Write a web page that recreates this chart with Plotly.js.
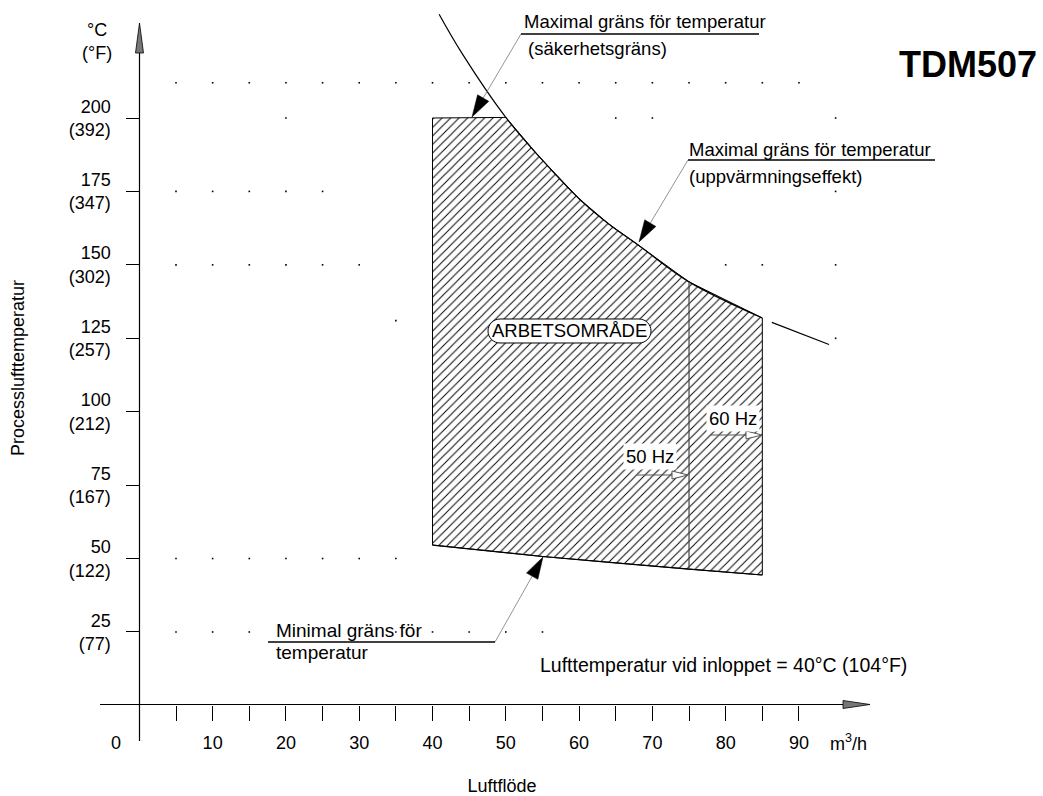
<!DOCTYPE html>
<html>
<head>
<meta charset="utf-8">
<script src="https://cdn.plot.ly/plotly-3.0.1.min.js"></script>
<style>
html, body { margin: 0; padding: 0; background: #fff; }
#chart { width: 1043px; height: 796px; }
</style>
</head>
<body>
<div id="chart"></div>
<script>
// ---------------- data ----------------
const flowLabelTicks = [10, 20, 30, 40, 50, 60, 70, 80, 90];
const flowLabels = ['10', '20', '30', '40', '50', '60', '70', '80', '90'];
const flowMinorTicks = [5, 15, 25, 35, 45, 55, 65, 75, 85];
const tempTicksC = [25, 50, 75, 100, 125, 150, 175, 200];
const tempTicksF = [77, 122, 167, 212, 257, 302, 347, 392];

// Maximal gräns för temperatur (säkerhetsgräns / uppvärmningseffekt) curve
const maxLimitFlow = [40.9, 43.9, 50.0, 54.5, 60.0, 64.0, 68.2, 75.0, 85.0];
const maxLimitTemp = [235.3, 222.5, 200.2, 187.0, 172.5, 164.0, 156.5, 144.2, 131.9];
const maxLimitTailFlow = [86.3, 94.1];
const maxLimitTailTemp = [130.4, 122.9];

// Minimal gräns för temperatur
const minLimitFlow = [40, 55, 75, 85];
const minLimitTemp = [54.6, 50.7, 46.4, 44.4];

const safetyCapTemp = 200;
const minFlow = 40;
const flow50Hz = 75;
const flow60Hz = 85;

// background grid dots (rows of temperature, flows present in each row)
const dotRowTemps = [212, 200, 175, 150, 131, 125, 50, 25];
const dotRowFlows = [
  [5, 10, 15, 20, 25, 30, 35, 40, 45, 50, 55, 60, 65, 70, 75, 80, 85, 90],
  [20, 65, 70, 95],
  [5, 10, 15, 20, 25, 95],
  [5, 10, 15, 20, 25, 30, 80, 85, 95],
  [35],
  [95],
  [5, 10, 15, 20, 25, 30, 35],
  [5, 10, 15, 35, 40, 45, 50, 55]
];

// ---------------- geometry helpers ----------------
const W = 1043, H = 796;
const PX_X = 7.329, PX_Y = 2.937, ORIGIN_X = 139.35, ORIGIN_Y = 705.4;
const PLOT_RIGHT = 1004, PLOT_BOTTOM = 736;
const FONT = 'Liberation Sans, Arial, Helvetica, sans-serif';

function P(px, py) { return [px / W, 1 - py / H]; }
function pt(px, py) { const q = P(px, py); return q[0].toFixed(5) + ',' + q[1].toFixed(5); }
function polyPath(pts) { return 'M' + pts.map(p => pt(p[0], p[1])).join('L') + 'Z'; }
function headPts(tail, tip, L, hw) {
  const dx = tip[0] - tail[0], dy = tip[1] - tail[1];
  const len = Math.hypot(dx, dy), ux = dx / len, uy = dy / len;
  const bx = tip[0] - ux * L, by = tip[1] - uy * L, nx = -uy, ny = ux;
  return { pts: [[tip[0], tip[1]], [bx + nx * hw, by + ny * hw], [bx - nx * hw, by - ny * hw]], base: [bx, by] };
}
function pillPath(cx, cy, hw, hh) {
  const a = hw - hh, r = hh, k = 0.5523 * r;
  return 'M' + pt(cx - a, cy - r) + 'L' + pt(cx + a, cy - r) +
    'C' + pt(cx + a + k, cy - r) + ' ' + pt(cx + a + r, cy - k) + ' ' + pt(cx + a + r, cy) +
    'C' + pt(cx + a + r, cy + k) + ' ' + pt(cx + a + k, cy + r) + ' ' + pt(cx + a, cy + r) +
    'L' + pt(cx - a, cy + r) +
    'C' + pt(cx - a - k, cy + r) + ' ' + pt(cx - a - r, cy + k) + ' ' + pt(cx - a - r, cy) +
    'C' + pt(cx - a - r, cy - k) + ' ' + pt(cx - a - k, cy - r) + ' ' + pt(cx - a, cy - r) + 'Z';
}

// ---------------- traces ----------------
const areaFlow = [minFlow, minFlow];
const areaTemp = [minLimitTemp[0], safetyCapTemp];
maxLimitFlow.forEach((f, i) => { if (f >= 50) { areaFlow.push(f); areaTemp.push(maxLimitTemp[i]); } });
for (let i = minLimitFlow.length - 1; i >= 0; i--) { areaFlow.push(minLimitFlow[i]); areaTemp.push(minLimitTemp[i]); }

const dotX = [], dotY = [];
dotRowTemps.forEach((t, i) => dotRowFlows[i].forEach(f => { dotX.push(f); dotY.push(t); }));

const i50max = maxLimitFlow.indexOf(flow50Hz);
const i50min = minLimitFlow.indexOf(flow50Hz);

const traces = [
  { type: 'scatter', mode: 'markers', x: dotX, y: dotY, hoverinfo: 'skip',
    marker: { symbol: 'square', size: 1.6, color: '#000', line: { width: 0 } } },
  { type: 'scatter', mode: 'lines', x: areaFlow, y: areaTemp, fill: 'toself', hoverinfo: 'skip',
    fillcolor: 'rgba(0,0,0,0)',
    fillpattern: { shape: '/', fgcolor: '#000', bgcolor: '#fff', size: 6, solidity: 0.16 },
    line: { color: '#000', width: 1 } },
  { type: 'scatter', mode: 'lines', hoverinfo: 'skip',
    x: maxLimitFlow, y: maxLimitTemp,
    line: { color: '#000', width: 1.2, shape: 'spline', smoothing: 1 } },
  { type: 'scatter', mode: 'lines', hoverinfo: 'skip',
    x: maxLimitTailFlow, y: maxLimitTailTemp,
    line: { color: '#000', width: 1.2 } },
  { type: 'scatter', mode: 'lines', hoverinfo: 'skip', x: minLimitFlow, y: minLimitTemp,
    line: { color: '#000', width: 1.2, shape: 'spline', smoothing: 0.6 } },
  { type: 'scatter', mode: 'lines', hoverinfo: 'skip',
    x: [flow50Hz, flow50Hz], y: [minLimitTemp[i50min], maxLimitTemp[i50max]],
    line: { color: '#444', width: 1.2 } }
];

// ---------------- decorations ----------------
const shapes = [];
const paper = { xref: 'paper', yref: 'paper' };
function lineShape(a, b, color, width) {
  const p = P(a[0], a[1]), q = P(b[0], b[1]);
  shapes.push(Object.assign({ type: 'line', x0: p[0], y0: p[1], x1: q[0], y1: q[1], line: { color: color, width: width } }, paper));
}
function pathShape(path, fill, color, width) {
  shapes.push(Object.assign({ type: 'path', path: path, fillcolor: fill, line: { color: color, width: width } }, paper));
}

// axis lines + arrows
lineShape([100, 704.5], [846, 704.5], '#000', 1.2);
pathShape(polyPath([[843, 700.5], [870, 704.5], [843, 708.5]]), '#777', '#000', 0.8);
lineShape([139.5, 741], [139.5, 52], '#000', 1.2);
pathShape(polyPath([[135.5, 53], [139.5, 23], [143.5, 53]]), '#777', '#000', 0.8);

// leader arrows (closed black heads)
[
  { tail: [521, 34], tip: [472, 117] },
  { tail: [688, 160], tip: [639, 242] },
  { tail: [495, 642], tip: [543, 557] }
].forEach(a => {
  const h = headPts(a.tail, a.tip, 22, 6.5);
  lineShape(a.tail, h.base, '#888', 0.9);
  pathShape(polyPath(h.pts), '#000', '#000', 0.5);
});
// underlines
lineShape([521, 34], [759, 34], '#000', 1.3);
lineShape([688, 160], [935, 160], '#000', 1.3);
lineShape([268, 642], [495, 642], '#000', 1.3);

// Hz arrows (open heads)
[
  { tail: [637, 475], tip: [688, 475] },
  { tail: [710, 435], tip: [762, 435] }
].forEach(a => {
  const h = headPts(a.tail, a.tip, 16, 4);
  lineShape(a.tail, h.base, '#555', 1);
  pathShape(polyPath(h.pts), '#fff', '#555', 1);
});

// pill around ARBETSOMRÅDE
pathShape(pillPath(569.5, 331, 81.5, 12), '#fff', '#000', 1);

// ---------------- annotations ----------------
const annotations = [];
function txt(text, px, py, xanchor, opts) {
  const p = P(px, py);
  annotations.push(Object.assign({ text: text, x: p[0], y: p[1], xref: 'paper', yref: 'paper',
    xanchor: xanchor, yanchor: 'middle', showarrow: false, borderpad: 0,
    font: { family: FONT, size: 18.5, color: '#000' } }, opts || {}));
}
txt('Maximal gräns för temperatur', 523, 22, 'left');
txt('(säkerhetsgräns)', 527, 48, 'left');
txt('Maximal gräns för temperatur', 688, 149, 'left');
txt('(uppvärmningseffekt)', 688, 176, 'left');
txt('Minimal gräns för', 275, 630, 'left', { font: { family: FONT, size: 19, color: '#000' } });
txt('temperatur', 275, 652, 'left', { font: { family: FONT, size: 19, color: '#000' } });
txt('ARBETSOMRÅDE', 569.5, 331, 'center');
txt('50 Hz', 650, 456, 'center', { bgcolor: '#fff', borderpad: 2 });
txt('60 Hz', 733, 418, 'center', { bgcolor: '#fff', borderpad: 2 });
txt('Lufttemperatur vid inloppet = 40°C (104°F)', 539, 665, 'left', { font: { family: FONT, size: 19.5, color: '#000' } });
txt('°C<br>(°F)', 113, 42, 'right', { font: { family: FONT, size: 18, color: '#000' } });
txt('0', 116, 743, 'center', { font: { family: FONT, size: 18, color: '#000' } });
txt('m<sup>3</sup>/h', 829, 742, 'left', { font: { family: FONT, size: 18, color: '#000' } });

// ---------------- layout ----------------
const layout = {
  width: W, height: H,
  margin: { l: 0, r: 0, t: 0, b: 0, pad: 0 },
  paper_bgcolor: '#fff', plot_bgcolor: '#fff',
  showlegend: false,
  font: { family: FONT, size: 18, color: '#000' },
  title: {
    text: '<b>TDM507</b>', xref: 'paper', yref: 'paper',
    x: 968 / W, xanchor: 'center', y: 1 - 64 / H, yanchor: 'middle',
    font: { family: FONT, size: 36, color: '#000' }
  },
  xaxis: {
    domain: [0, PLOT_RIGHT / W], range: [-ORIGIN_X / PX_X, (PLOT_RIGHT - ORIGIN_X) / PX_X],
    anchor: 'free', position: (H - ORIGIN_Y) / H,
    showline: false, showgrid: false, zeroline: false, automargin: false,
    ticks: 'outside', ticklen: 15, tickwidth: 1, tickcolor: '#000',
    tickmode: 'array', tickvals: flowLabelTicks, ticktext: flowLabels,
    minor: { tickmode: 'array', tickvals: flowMinorTicks, ticks: 'outside', ticklen: 15, tickwidth: 1, tickcolor: '#000', showgrid: false },
    tickfont: { family: FONT, size: 18, color: '#000' }, ticklabelstandoff: 6,
    title: { text: 'Luftflöde', font: { family: FONT, size: 18, color: '#000' }, standoff: 28 },
    fixedrange: true
  },
  yaxis: {
    domain: [1 - PLOT_BOTTOM / H, 1], range: [(ORIGIN_Y - PLOT_BOTTOM) / PX_Y, ORIGIN_Y / PX_Y],
    anchor: 'free', position: ORIGIN_X / W, side: 'left',
    showline: false, showgrid: false, zeroline: false, automargin: false,
    ticks: 'outside', ticklen: 13, tickwidth: 1, tickcolor: '#000',
    tickmode: 'array', tickvals: tempTicksC,
    ticktext: tempTicksC.map((c, i) => c + '<br>(' + tempTicksF[i] + ')'),
    tickfont: { family: FONT, size: 18, color: '#000' }, ticklabelstandoff: 12,
    title: { text: 'Processlufttemperatur', font: { family: FONT, size: 18, color: '#000' }, standoff: 38 },
    fixedrange: true
  },
  shapes: shapes,
  annotations: annotations
};

Plotly.newPlot('chart', traces, layout, { displayModeBar: false, staticPlot: true });
</script>
</body>
</html>
